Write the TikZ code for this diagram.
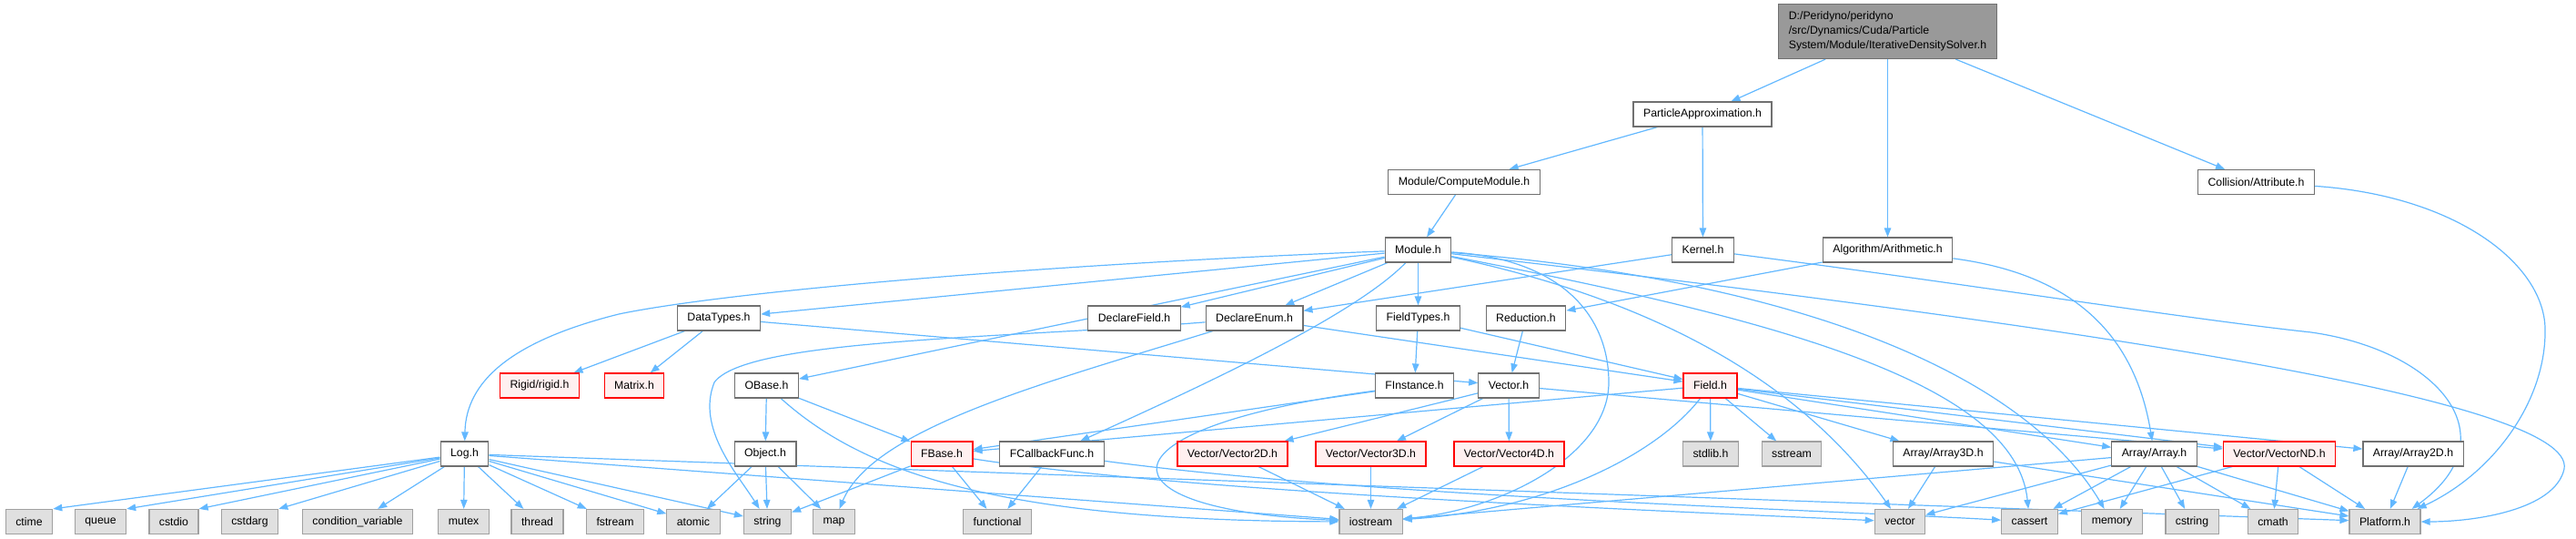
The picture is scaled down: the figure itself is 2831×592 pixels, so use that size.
\documentclass[tikz,border=0pt]{standalone}
\usepackage{fontspec}
\setmainfont{Liberation Sans}
\usetikzlibrary{arrows.meta}
\definecolor{edgec}{HTML}{63B8FF}
\definecolor{nborder}{HTML}{707070}
\definecolor{redfill}{HTML}{FFF0F0}
\definecolor{sysfill}{HTML}{E0E0E0}
\definecolor{sysborder}{HTML}{A0A0A0}
\definecolor{topfill}{HTML}{999999}
\pgfdeclarelayer{edgelayer}
\pgfsetlayers{edgelayer,main}
\begin{document}
\begin{tikzpicture}[x=1bp,y=-1bp,
  box/.style={draw=nborder, fill=white, line width=1.2bp, minimum height=27bp, inner xsep=11bp, inner ysep=0pt, font=\fontsize{12.3bp}{16bp}\selectfont},
  redbox/.style={box, draw=red, fill=redfill},
  sysbox/.style={box, draw=sysborder, fill=sysfill},
  topbox/.style={box, fill=topfill, minimum height=60bp, align=left, inner ysep=4bp},
  dep/.style={draw=edgec, line width=1.2bp, -{Triangle[length=10bp,width=7.5bp]}}
]
\useasboundingbox (0,0) rectangle (2831,592);

% nodes
\node[topbox] (top) at (2074.5,34.5) {D:/Peridyno/peridyno\\/src/Dynamics/Cuda/Particle\\System/Module/IterativeDensitySolver.h};
\node[box] (PA) at (1871,125.5) {ParticleApproximation.h};
\node[box] (CM) at (1609,200) {Module/ComputeModule.h};
\node[box] (Coll) at (2479.5,200) {Collision/Attribute.h};
\node[box] (Module) at (1558.5,274.5) {Module.h};
\node[box] (Kernel) at (1871.5,274.5) {Kernel.h};
\node[box] (Arith) at (2074.5,274.5) {Algorithm/Arithmetic.h};

\node[box] (DataTypes) at (790,349.5) {DataTypes.h};
\node[box] (DeclField) at (1246.5,349.5) {DeclareField.h};
\node[box] (DeclEnum) at (1378.5,349.5) {DeclareEnum.h};
\node[box] (FieldTypes) at (1558.5,349.5) {FieldTypes.h};
\node[box] (Reduction) at (1677,349.5) {Reduction.h};

\node[redbox] (Rigid) at (593,423.5) {Rigid/rigid.h};
\node[redbox] (Matrix) at (697,423.5) {Matrix.h};
\node[box] (OBase) at (842.5,423.5) {OBase.h};
\node[box] (FInstance) at (1554.5,423.5) {FInstance.h};
\node[box] (Vector) at (1658,423.5) {Vector.h};
\node[redbox] (Field) at (1879.5,423.5) {Field.h};

\node[box] (Log) at (510.5,498.5) {Log.h};
\node[box] (Object) at (841,498.5) {Object.h};
\node[redbox] (FBase) at (1035,498.5) {FBase.h};
\node[box] (FCallback) at (1156,498.5) {FCallbackFunc.h};
\node[redbox] (VTwo) at (1354.5,498.5) {Vector/Vector2D.h};
\node[redbox] (VThree) at (1506.5,498.5) {Vector/Vector3D.h};
\node[redbox] (VFour) at (1658.5,498.5) {Vector/Vector4D.h};
\node[sysbox] (stdlib) at (1880,498.5) {stdlib.h};
\node[sysbox] (sstream) at (1969,498.5) {sstream};
\node[box] (AThree) at (2135.5,498.5) {Array/Array3D.h};
\node[box] (Array) at (2367.5,498.5) {Array/Array.h};
\node[redbox] (VND) at (2505,498.5) {Vector/VectorND.h};
\node[box] (ATwo) at (2652,498.5) {Array/Array2D.h};

\node[sysbox] (ctime) at (32,573) {ctime};
\node[sysbox] (queue) at (110.5,573) {queue};
\node[sysbox] (cstdio) at (191,573) {cstdio};
\node[sysbox] (cstdarg) at (274.5,573) {cstdarg};
\node[sysbox] (condvar) at (393,573) {condition\_variable};
\node[sysbox] (mutex) at (509.5,573) {mutex};
\node[sysbox] (thread) at (590.5,573) {thread};
\node[sysbox] (fstream) at (676,573) {fstream};
\node[sysbox] (atomic) at (762,573) {atomic};
\node[sysbox] (string) at (843.5,573) {string};
\node[sysbox] (map) at (916.5,573) {map};
\node[sysbox] (functional) at (1096,573) {functional};
\node[sysbox] (iostream) at (1506.5,573) {iostream};
\node[sysbox] (vector) at (2088,573) {vector};
\node[sysbox] (cassert) at (2230.5,573) {cassert};
\node[sysbox] (memory) at (2321,573) {memory};
\node[sysbox] (cstring) at (2409,573) {cstring};
\node[sysbox] (cmath) at (2498,573) {cmath};
\node[sysbox] (Platform) at (2621,573) {Platform.h};

% edges
\begin{pgfonlayer}{edgelayer}
\draw[dep] (top) -- (PA);
\draw[dep] (top) -- (Arith);
\draw[dep] (top) -- (Coll);
\draw[dep] (PA) -- (CM);
\draw[dep] (PA) -- (Kernel);
\draw[dep] (CM) -- (Module);
\draw[dep] (Coll) .. controls (2700,215) and (2795,290) .. (2797,360) .. controls (2799,440) and (2740,520) .. ([xshift=-4bp]Platform.north east);
\draw[dep] (Kernel) -- (DeclEnum);
\draw[dep] (Kernel) .. controls (2150,310) and (2400,350) .. (2540,365) .. controls (2680,385) and (2760,480) .. ([xshift=-10bp]Platform.north east);
\draw[dep] (Arith) -- (Reduction);
\draw[dep] (Arith) .. controls (2270,300) and (2345,360) .. (Array);

\draw[dep] (Module) .. controls (1150,290) and (800,320) .. (680,345) .. controls (560,375) and (512,420) .. (Log);
\draw[dep] (Module) -- (DataTypes);
\draw[dep] (Module) -- (OBase);
\draw[dep] (Module) -- (DeclField);
\draw[dep] (Module) -- (DeclEnum);
\draw[dep] (Module) -- (FieldTypes);
\draw[dep] (Module) .. controls (1490,345) and (1330,420) .. (FCallback);
\draw[dep] (Module) .. controls (1720,285) and (1768,350) .. (1768,420) .. controls (1768,500) and (1650,560) .. (iostream);
\draw[dep] (Module) .. controls (1820,330) and (1980,420) .. (vector);
\draw[dep] (Module) .. controls (1950,350) and (2215,420) .. (cassert);
\draw[dep] (Module) .. controls (2000,310) and (2230,420) .. (memory);
\draw[dep] (Module) .. controls (2300,360) and (2831,440) .. (2818,515) .. controls (2808,560) and (2720,573) .. (Platform.east);

\draw[dep] (DataTypes) -- (Rigid);
\draw[dep] (DataTypes) -- (Matrix);
\draw[dep] (DataTypes) -- (Vector);
\draw[dep] (DeclEnum) .. controls (1100,372) and (820,372) .. (785,420) .. controls (765,470) and (810,520) .. (string);
\draw[dep] (DeclEnum) .. controls (1150,420) and (960,470) .. (map);
\draw[dep] (DeclEnum) -- (Field);
\draw[dep] (FieldTypes) -- (FInstance);
\draw[dep] (FieldTypes) -- (Field);
\draw[dep] (Reduction) -- (Vector);

\draw[dep] (OBase) -- (Object);
\draw[dep] (OBase) -- (FBase);
\draw[dep] (OBase) .. controls (950,520) and (1100,572) .. (iostream);
\draw[dep] (Object) -- (atomic);
\draw[dep] (Object) -- (string);
\draw[dep] (Object) -- (map);

\draw[dep] (Log) -- (ctime.north east);
\draw[dep] (Log) -- (queue.north east);
\draw[dep] (Log) -- (cstdio.north east);
\draw[dep] (Log) -- (cstdarg.north east);
\draw[dep] (Log) -- (condvar);
\draw[dep] (Log) -- (mutex);
\draw[dep] (Log) -- (thread);
\draw[dep] (Log) -- (fstream);
\draw[dep] (Log) -- (atomic);
\draw[dep] (Log) -- (string);
\draw[dep] (Log) -- (iostream);
\draw[dep] (Log) -- (Platform);

\draw[dep] (FBase) -- (functional);
\draw[dep] (FBase) -- (string);
\draw[dep] (FBase) .. controls (1300,540) and (1800,560) .. (vector);
\draw[dep] (FCallback) -- (functional);
\draw[dep] (FCallback) .. controls (1500,545) and (2000,560) .. (cassert);

\draw[dep] (FInstance) -- (FBase);
\draw[dep] (FInstance) .. controls (1200,470) and (1200,560) .. (iostream);
\draw[dep] (Field) -- (FBase);
\draw[dep] (Field) .. controls (1820,500) and (1700,560) .. (iostream);
\draw[dep] (Field) -- (stdlib);
\draw[dep] (Field) -- (sstream);
\draw[dep] (Field) -- (AThree);
\draw[dep] (Field) -- (Array);
\draw[dep] (Field) -- (VND);
\draw[dep] (Field) -- (ATwo);

\draw[dep] (Vector) -- (VTwo);
\draw[dep] (Vector) -- (VThree);
\draw[dep] (Vector) -- (VFour);
\draw[dep] (Vector) -- (VND);
\draw[dep] (VTwo) -- (iostream);
\draw[dep] (VThree) -- (iostream);
\draw[dep] (VFour) -- (iostream);

\draw[dep] (AThree) -- (vector);
\draw[dep] (AThree) -- (Platform);
\draw[dep] (Array) -- (iostream);
\draw[dep] (Array) -- (vector);
\draw[dep] (Array) -- (cassert);
\draw[dep] (Array) -- (memory);
\draw[dep] (Array) -- (cstring);
\draw[dep] (Array) -- (cmath);
\draw[dep] (Array) -- (Platform);
\draw[dep] (VND) -- (cassert);
\draw[dep] (VND) -- (cmath);
\draw[dep] (VND) -- (Platform);
\draw[dep] (ATwo) -- (Platform);
\end{pgfonlayer}
\end{tikzpicture}
\end{document}
